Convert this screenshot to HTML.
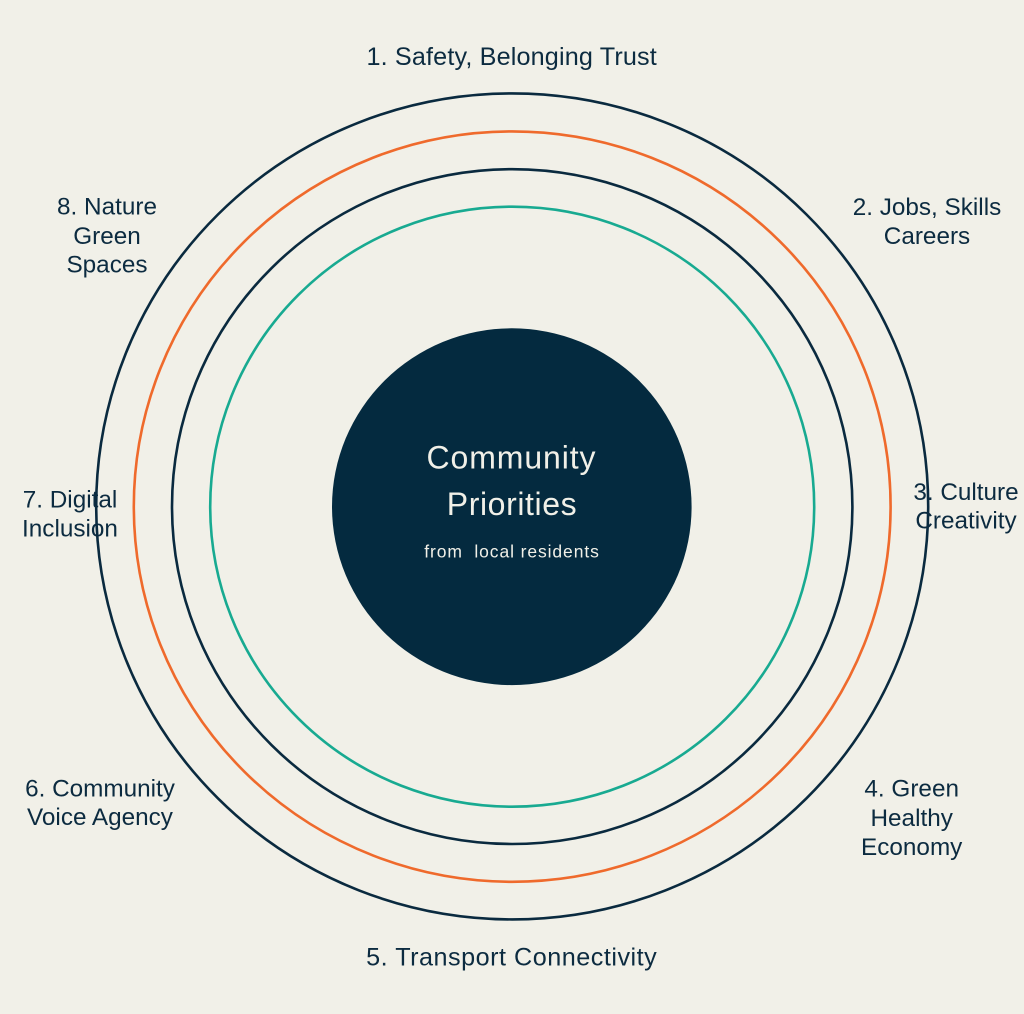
<!DOCTYPE html>
<html>
<head>
<meta charset="utf-8">
<style>
  html, body { margin: 0; padding: 0; background: #f1f0e8; }
  svg { display: block; }
  text { font-family: "Liberation Sans", Arial, sans-serif; fill: #0c2b40; }
</style>
</head>
<body>
<svg width="1024" height="1014" viewBox="0 0 1024 1014" xmlns="http://www.w3.org/2000/svg">
  <rect x="0" y="0" width="1024" height="1014" fill="#f1f0e8"/>

  <!-- rings -->
  <ellipse cx="512.2" cy="506.4" rx="416" ry="413" fill="none" stroke="#0a2a3f" stroke-width="2.6"/>
  <ellipse cx="512.2" cy="506.6" rx="378.4" ry="375.2" fill="none" stroke="#ef6a2c" stroke-width="2.6"/>
  <ellipse cx="512.2" cy="506.6" rx="340.2" ry="337.4" fill="none" stroke="#0a2a3f" stroke-width="2.6"/>
  <ellipse cx="512.2" cy="506.7" rx="302" ry="300" fill="none" stroke="#18aa91" stroke-width="2.6"/>

  <!-- center -->
  <ellipse cx="511.8" cy="506.7" rx="179.8" ry="178.4" fill="#042a3f"/>
  <text x="511.5" y="468.3" text-anchor="middle" font-size="32" letter-spacing="0.9" style="fill:#f1f0e8">Community</text>
  <text x="512" y="515" text-anchor="middle" font-size="32" letter-spacing="0.6" style="fill:#f1f0e8">Priorities</text>
  <text x="512" y="557.3" text-anchor="middle" font-size="17.5" letter-spacing="0.9" style="fill:#f1f0e8;white-space:pre" xml:space="preserve">from  local residents</text>

  <!-- labels -->
  <text x="511.7" y="65" text-anchor="middle" font-size="25.2" letter-spacing="0.15">1. Safety, Belonging Trust</text>

  <text x="927" y="215" text-anchor="middle" font-size="24.3">2. Jobs, Skills</text>
  <text x="927" y="244" text-anchor="middle" font-size="24.3">Careers</text>

  <text x="966" y="500" text-anchor="middle" font-size="24.3">3. Culture</text>
  <text x="966" y="528.3" text-anchor="middle" font-size="24.3">Creativity</text>

  <text x="911.7" y="796.7" text-anchor="middle" font-size="24.3">4. Green</text>
  <text x="911.7" y="826" text-anchor="middle" font-size="24.3">Healthy</text>
  <text x="911.7" y="855" text-anchor="middle" font-size="24.3">Economy</text>

  <text x="511.7" y="965.7" text-anchor="middle" font-size="25.2" letter-spacing="0.5">5. Transport Connectivity</text>

  <text x="100" y="796.7" text-anchor="middle" font-size="24.3">6. Community</text>
  <text x="100" y="825" text-anchor="middle" font-size="24.3">Voice Agency</text>

  <text x="70" y="507.7" text-anchor="middle" font-size="24.3">7. Digital</text>
  <text x="70" y="536.7" text-anchor="middle" font-size="24.3">Inclusion</text>

  <text x="107" y="214.3" text-anchor="middle" font-size="24.3">8. Nature</text>
  <text x="107" y="244" text-anchor="middle" font-size="24.3">Green</text>
  <text x="107" y="272.3" text-anchor="middle" font-size="24.3">Spaces</text>
</svg>
</body>
</html>
